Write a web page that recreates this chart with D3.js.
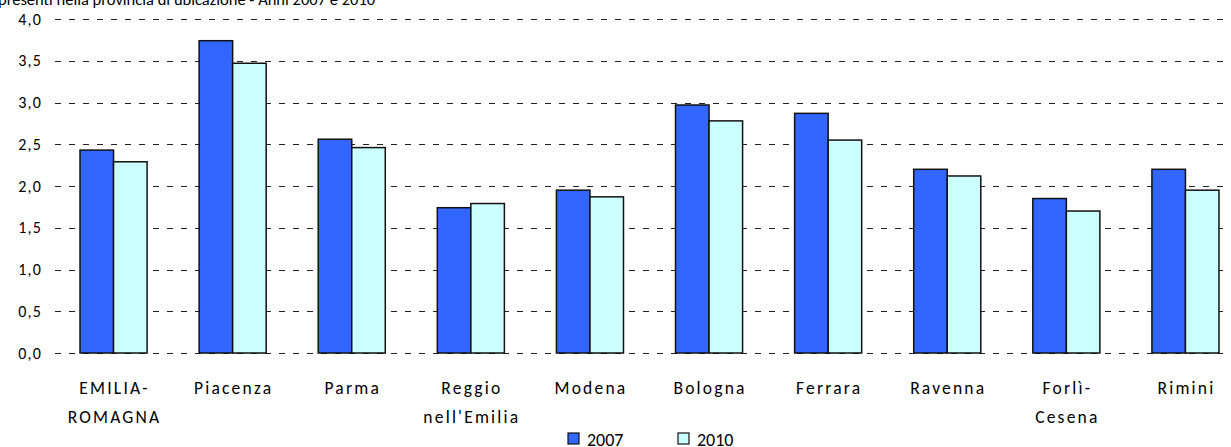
<!DOCTYPE html>
<html>
<head>
<meta charset="utf-8">
<script src="https://cdn.jsdelivr.net/npm/d3@7"></script>
<style>
  body { margin: 0; background: #fff; }
  svg text { font-family: Carlito, Calibri, Lato, sans-serif; fill: #000; }
</style>
</head>
<body>
<div id="chart"></div>
<script>
// valori
var categories = [['EMILIA-', 'ROMAGNA'], ['Piacenza'], ['Parma'], ['Reggio', "nell'Emilia"], ['Modena'],
  ['Bologna'], ['Ferrara'], ['Ravenna'], ['Forlì-', 'Cesena'], ['Rimini']]
var years = ['2007', '2010']
var values2007 = [2.43, 3.74, 2.56, 1.74, 1.95, 2.97, 2.87, 2.20, 1.85, 2.20]
var values2010 = [2.29, 3.47, 2.46, 1.79, 1.87, 2.78, 2.55, 2.12, 1.70, 1.95]
var yTicks = [0, 0.5, 1, 1.5, 2, 2.5, 3, 3.5, 4]
var colors = ['#3366FF', '#CCFFFF']
var title = 'presenti nella provincia di ubicazione - Anni 2007 e 2010'

var w = 1231
var h = 447

var svg = d3.select('#chart').append('svg')
    .attr('width', w)
    .attr('height', h)

var y = d3.scaleLinear().domain([0, 4]).range([353, 19])

var x = d3.scaleBand()
    .domain(d3.range(categories.length))
    .range([54, 1245])
    .paddingInner(52 / 119)
    .paddingOuter(26 / 119)

var x1 = d3.scaleBand().domain(years).range([0, x.bandwidth()])

var fmt = function (d) { return d3.format('.1f')(d).replace('.', ',') }

svg.append('text')
    .attr('x', -2)
    .attr('y', 5)
    .style('font-size', '16.5px')
    .text(title)

// griglia tratteggiata
svg.append('g').selectAll('line')
    .data(yTicks)
    .enter().append('line')
    .attr('x1', 55)
    .attr('x2', 1225)
    .attr('y1', function (d) { return Math.round(y(d)) + 0.5 })
    .attr('y2', function (d) { return Math.round(y(d)) + 0.5 })
    .attr('stroke', '#222')
    .attr('stroke-width', 1)
    .attr('stroke-dasharray', '6,8')

svg.append('g').selectAll('text')
    .data(yTicks)
    .enter().append('text')
    .attr('x', 42)
    .attr('y', function (d) { return y(d) + 5.5 })
    .attr('text-anchor', 'end')
    .style('font-size', '16px')
    .style('letter-spacing', '1.2px')
    .text(fmt)

var rows = categories.map(function (c, i) {
  return { i: i, vals: [values2007[i], values2010[i]] }
})

var groups = svg.append('g').selectAll('g')
    .data(rows)
    .enter().append('g')
    .attr('transform', function (d) { return 'translate(' + x(d.i) + ',0)' })

groups.selectAll('rect')
    .data(function (d) { return d.vals.map(function (v, k) { return { k: k, v: v } }) })
    .enter().append('rect')
    .attr('x', function (d) { return x1(years[d.k]) })
    .attr('width', x1.bandwidth())
    .attr('y', function (d) { return y(d.v) })
    .attr('height', function (d) { return y(0) - y(d.v) })
    .attr('fill', function (d) { return colors[d.k] })
    .attr('stroke', '#111')
    .attr('stroke-width', 1.5)

// etichette categorie
var labels = svg.append('g').selectAll('text')
    .data(categories)
    .enter().append('text')
    .attr('x', function (d, i) { return x(i) + x.bandwidth() / 2 + 1 })
    .attr('y', 394)
    .attr('text-anchor', 'middle')
    .style('font-size', '17.5px')
    .style('letter-spacing', '2.2px')

labels.selectAll('tspan')
    .data(function (d) { return d })
    .enter().append('tspan')
    .attr('x', function () { return d3.select(this.parentNode).attr('x') })
    .attr('dy', function (d, j) { return j === 0 ? 0 : 28.5 })
    .text(function (d) { return d })

// legenda
var legendX = [568, 678]
var legend = svg.append('g').selectAll('g')
    .data(years)
    .enter().append('g')
    .attr('transform', function (d, i) { return 'translate(' + legendX[i] + ',433)' })

legend.append('rect')
    .attr('width', 11)
    .attr('height', 11)
    .attr('fill', function (d, i) { return colors[i] })
    .attr('stroke', '#111')
    .attr('stroke-width', 1.2)

legend.append('text')
    .attr('x', 19)
    .attr('y', 13)
    .style('font-size', '18px')
    .text(function (d) { return d })
</script>
</body>
</html>
